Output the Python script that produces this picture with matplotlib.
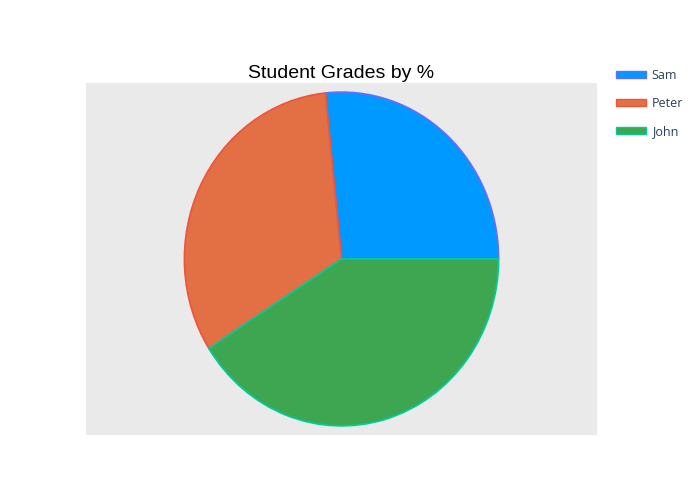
import matplotlib.pyplot as plt
from matplotlib.patches import Rectangle

# data
students = ['Sam', 'Peter', 'John']
grades = [65, 79, 100]

fill_colors = ['#0099ff', '#e36f45', '#3ea650']
edge_colors = ['#636efa', '#ef553b', '#00cc96']

fig = plt.figure(figsize=(7, 5), dpi=100)
ax = fig.add_axes([86 / 700, 65 / 500, 511 / 700, 352 / 500])
ax.set_facecolor('#eaeaea')

wedges, _ = ax.pie(grades, startangle=0, counterclock=True,
                   colors=fill_colors, radius=1.0,
                   wedgeprops={'linewidth': 1.3})
for w, ec in zip(wedges, edge_colors):
    w.set_edgecolor(ec)

# grey box like the reference, pie stretched a bit vertically
ax.set_aspect('auto')
ax.set_xlim(-1.627, 1.627)
ax.set_ylim(-1.055, 1.055)
ax.set_frame_on(True)
for s in ax.spines.values():
    s.set_visible(False)
ax.set_xticks([])
ax.set_yticks([])

fig.text(341 / 700, 1 - 73 / 500, 'Student Grades by %', ha='center', va='center',
         fontsize=14, family='Liberation Sans', color='black')

handles = [Rectangle((0, 0), 1, 1, facecolor=fc, edgecolor=ec, linewidth=1)
           for fc, ec in zip(fill_colors, edge_colors)]
leg = fig.legend(handles, students, loc='upper left',
                 bbox_to_anchor=(605 / 700, 1 - 58 / 500),
                 frameon=False, handlelength=2.4, handleheight=0.45,
                 handletextpad=0.45, labelspacing=1.2,
                 prop={'family': 'Open Sans', 'size': 9})
for t in leg.get_texts():
    t.set_color('#2a3f5f')

fig.savefig('out.png', dpi=100)
